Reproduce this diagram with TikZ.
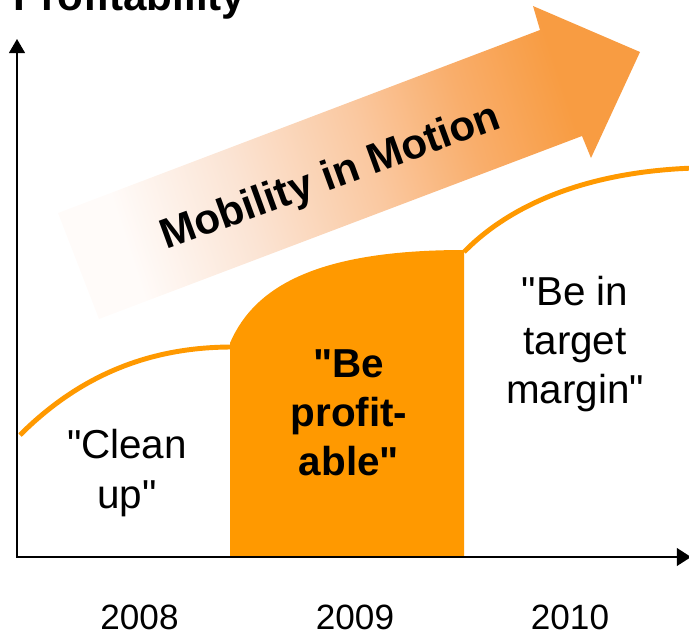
\documentclass[tikz,border=0pt]{standalone}
\usepackage{fontspec}
\setmainfont{Liberation Sans}[Ligatures=TeXOff]
\usetikzlibrary{arrows.meta}

\definecolor{chartorange}{RGB}{255,153,0}
\definecolor{mobilitylight}{RGB}{255,251,249}
\definecolor{mobilitypeach}{RGB}{251,228,212}
\definecolor{mobilitymid}{RGB}{250,200,160}
\definecolor{mobilitywarm}{RGB}{249,174,108}
\definecolor{mobilitydark}{RGB}{248,156,66}
\pgfdeclarehorizontalshading{mobilityshade}{100bp}{color(0bp)=(mobilitylight); color(27bp)=(mobilitylight); color(39bp)=(mobilitypeach); color(52bp)=(mobilitymid); color(62bp)=(mobilitywarm); color(72bp)=(mobilitydark); color(100bp)=(mobilitydark)}

\tikzset{
  axisline/.style={line width=1.1pt, {Triangle[length=8pt,width=9pt]}-{Triangle[length=8pt,width=10pt]}},
  phaseline/.style={line width=2.8pt, chartorange},
  phasetext/.style={font=\fontsize{23}{28}\selectfont, align=center, inner sep=0pt},
  yeartext/.style={font=\fontsize{20}{24}\selectfont, anchor=base, inner sep=0pt},
  headtext/.style={font=\bfseries\fontsize{24}{28}\selectfont, anchor=base west, inner sep=0pt}
}

\begin{document}
\begin{tikzpicture}[x=0.02cm, y=-0.02cm]
% Page frame
\useasboundingbox (0,0) rectangle (689,633);
\clip (0,0) rectangle (689,633);

% Shading the big arrow
\shade[shading=mobilityshade, shading angle=18] (58,213) -- (540,30) -- (533,6) -- (640,52) -- (591,158) -- (582,136) -- (99,319) -- cycle;

% Filling phase 2009
\fill[chartorange] (230,557) -- (230,343) .. controls (255,285) and (320,250) .. (464,250) -- (464,557) -- cycle;

% Drawing curves of phase 2008 and 2010
\draw[phaseline] (20,435) .. controls (80,375) and (150,347) .. (232,347);
\draw[phaseline] (464,252) .. controls (500,215) and (570,172) .. (695,168);

% Drawing axes
\coordinate (origin) at (17,557);
\coordinate (ytip) at (17,39);
\coordinate (xtip) at (691,557);
\draw[axisline] (ytip) -- (origin) -- (xtip);

% Marking texts
\node[headtext] (profitability) at (13,10) {Profitability};
\node[headtext, rotate=20] (mobility) at (166,250) {Mobility in Motion};
\node[phasetext] (cleanup) at (127,473) {"Clean\\up"};
\node[phasetext, font=\bfseries\fontsize{23}{28}\selectfont] (profitable) at (349,413) {"Be\\profit-\\able"};
\node[phasetext] (targetmargin) at (575,344) {"Be in\\target\\margin"};

% Marking years
\node[yeartext] (y2008) at (139.5,629) {2008};
\node[yeartext] (y2009) at (355,629) {2009};
\node[yeartext] (y2010) at (570,629) {2010};
\end{tikzpicture}
\end{document}
